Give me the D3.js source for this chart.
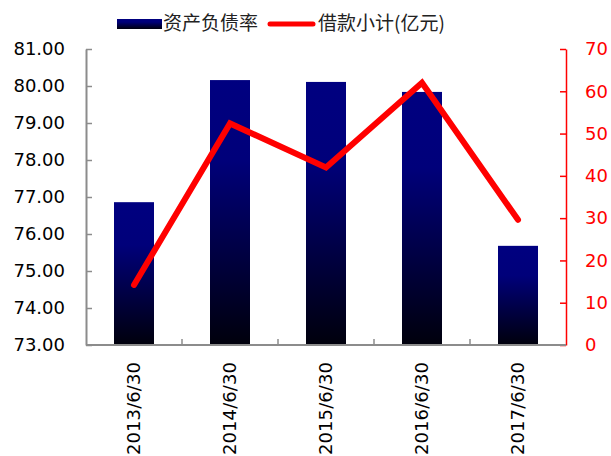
<!DOCTYPE html>
<html>
<head>
<meta charset="utf-8">
<script src="https://cdn.jsdelivr.net/npm/d3@7"></script>
<style>
  html, body { margin: 0; padding: 0; background: #fff; }
  svg { display: block; }
</style>
</head>
<body>
<svg id="chart" width="611" height="456"></svg>
<script>
// Period labels
const categories = ["2013/6/30", "2014/6/30", "2015/6/30", "2016/6/30", "2017/6/30"];
// 资产负债率 (%), left axis
const debtRatio = [76.86, 80.16, 80.11, 79.84, 75.68];
// 借款小计 (亿元), right axis
const borrowings = [14.2, 52.4, 42.0, 62.0, 29.6];
// Axis ticks
const leftTicks = [73, 74, 75, 76, 77, 78, 79, 80, 81];
const rightTicks = [0, 10, 20, 30, 40, 50, 60, 70];
const legendNames = ["资产负债率", "借款小计(亿元)"];

(function () {
  const svg = d3.select("#chart");
  const plotL = 86, plotR = 566, plotT = 49, plotB = 345;
  const numFont = "DejaVu Sans, sans-serif";
  const cjkFont = "'Noto Sans CJK SC', sans-serif";

  const x = d3.scaleBand().domain(categories).range([plotL, plotR]).paddingInner(0).paddingOuter(0);
  const yL = d3.scaleLinear().domain([73, 81]).range([plotB, plotT]);
  const yR = d3.scaleLinear().domain([0, 70]).range([plotB, plotT]);

  // Bar gradient: navy on top fading to black at the base
  const defs = svg.append("defs");
  const grad = defs.append("linearGradient").attr("id", "barGrad")
    .attr("x1", 0).attr("y1", 0).attr("x2", 0).attr("y2", 1);
  grad.append("stop").attr("offset", "0%").attr("stop-color", "#000080");
  grad.append("stop").attr("offset", "30%").attr("stop-color", "#00007a");
  grad.append("stop").attr("offset", "100%").attr("stop-color", "#00000c");

  // Bars
  const barW = 40;
  svg.append("g").selectAll("rect").data(debtRatio).join("rect")
    .attr("x", (d, i) => x(categories[i]) + x.bandwidth() / 2 - barW / 2)
    .attr("y", d => yL(d))
    .attr("width", barW)
    .attr("height", d => plotB - yL(d))
    .attr("fill", "url(#barGrad)");

  // Left axis
  const gL = svg.append("g").attr("transform", `translate(${plotL},0)`)
    .call(d3.axisLeft(yL).tickValues(leftTicks).tickFormat(d3.format(".2f")).tickSizeInner(-6).tickSizeOuter(0).tickPadding(21));
  gL.select(".domain").attr("stroke", "#8c8c8c").attr("stroke-width", 2);
  gL.selectAll(".tick line").attr("stroke", "#8c8c8c").attr("stroke-width", 1.5);
  gL.selectAll(".tick text").attr("fill", "#000").style("font-family", numFont).style("font-size", "18px");

  // Right axis
  const gR = svg.append("g").attr("transform", `translate(${plotR},0)`)
    .call(d3.axisRight(yR).tickValues(rightTicks).tickSizeInner(-6).tickSizeOuter(0).tickPadding(19));
  gR.select(".domain").attr("stroke", "#ff0000").attr("stroke-width", 1.5);
  gR.selectAll(".tick line").attr("stroke", "#ff0000").attr("stroke-width", 1.5);
  gR.selectAll(".tick text").attr("fill", "#ff0000").style("font-family", numFont).style("font-size", "18px");

  // Bottom axis with boundary ticks between categories
  const gB = svg.append("g").attr("transform", `translate(0,${plotB})`);
  gB.append("line").attr("x1", plotL).attr("x2", plotR).attr("y1", 0).attr("y2", 0)
    .attr("stroke", "#8c8c8c").attr("stroke-width", 2);
  gB.selectAll("line.bt").data(categories.slice(1)).join("line").attr("class", "bt")
    .attr("x1", d => x(d)).attr("x2", d => x(d)).attr("y1", 0).attr("y2", -6)
    .attr("stroke", "#8c8c8c").attr("stroke-width", 1.5);
  gB.selectAll("text").data(categories).join("text")
    .attr("transform", d => `translate(${x(d) + x.bandwidth() / 2 + 6},17) rotate(-90)`)
    .attr("text-anchor", "end")
    .attr("textLength", 93).attr("lengthAdjust", "spacing")
    .style("font-family", numFont).style("font-size", "18px").attr("fill", "#000")
    .text(d => d);

  // Borrowings line
  const line = d3.line().x((d, i) => x(categories[i]) + x.bandwidth() / 2).y(d => yR(d));
  svg.append("path").datum(borrowings)
    .attr("d", line).attr("fill", "none").attr("stroke", "#ff0000")
    .attr("stroke-width", 6).attr("stroke-linecap", "round").attr("stroke-linejoin", "miter");

  // Legend
  const lg = svg.append("g");
  lg.append("rect").attr("x", 117).attr("y", 19).attr("width", 45).attr("height", 10).attr("fill", "url(#barGrad)");
  lg.append("text").attr("x", 163).attr("y", 30).style("font-family", cjkFont).style("font-size", "19px")
    .attr("fill", "#222").text(legendNames[0]);
  lg.append("line").attr("x1", 270).attr("x2", 313).attr("y1", 24).attr("y2", 24)
    .attr("stroke", "#ff0000").attr("stroke-width", 5).attr("stroke-linecap", "round");
  lg.append("text").attr("x", 318).attr("y", 30).style("font-family", cjkFont).style("font-size", "19px")
    .attr("fill", "#222").text(legendNames[1]);
})();
</script>
</body>
</html>
